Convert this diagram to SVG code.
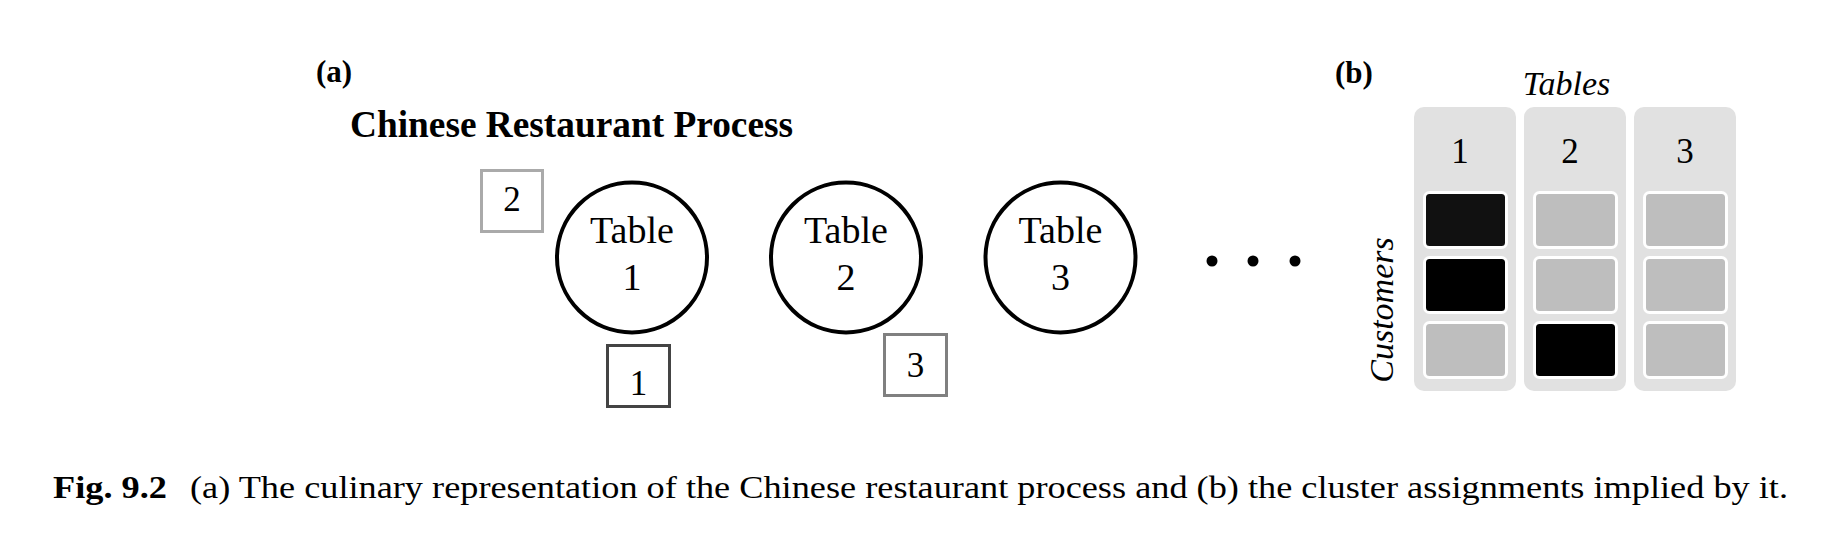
<svg xmlns="http://www.w3.org/2000/svg" width="1836" height="540" viewBox="0 0 1836 540" font-family="'Liberation Serif', 'Times New Roman', serif">
<style>
  text { font-family: "Liberation Serif", "Times New Roman", serif; fill: #000; }
  .lbl { font-size: 31px; font-weight: bold; }
  .title { font-size: 38px; font-weight: bold; }
  .tbl { font-size: 38px; text-anchor: middle; }
  .num { font-size: 35px; text-anchor: middle; }
  .ital { font-size: 34px; font-style: italic; text-anchor: middle; }
  .table { fill: #fff; stroke: #000; stroke-width: 4; }
  .cust { fill: #fff; stroke-width: 3; }
  .col { fill: #e1e1e1; }
  .cell { stroke: #fff; stroke-width: 3; }
  .on1 { fill: #111; }
  .on { fill: #000; }
  .off { fill: #bebebe; }
  .cap { font-size: 32px; }
</style>
<rect width="1836" height="540" fill="#fff"/>

<text class="lbl" x="316" y="82">(a)</text>
<text class="title" x="350" y="137" textLength="443" lengthAdjust="spacingAndGlyphs">Chinese Restaurant Process</text>

<g id="table1">
  <circle class="table" cx="632" cy="257.5" r="75"/>
  <text class="tbl" x="632" y="243">Table</text>
  <text class="tbl" x="632" y="290">1</text>
</g>
<g id="table2">
  <circle class="table" cx="846" cy="257.5" r="75"/>
  <text class="tbl" x="846" y="243">Table</text>
  <text class="tbl" x="846" y="290">2</text>
</g>
<g id="table3">
  <circle class="table" cx="1060.5" cy="257.5" r="75"/>
  <text class="tbl" x="1060.5" y="243">Table</text>
  <text class="tbl" x="1060.5" y="290">3</text>
</g>
<g id="ellipsis">
  <circle cx="1212" cy="261" r="5.5" fill="#000"/>
  <circle cx="1253" cy="261" r="5.5" fill="#000"/>
  <circle cx="1295" cy="261" r="5.5" fill="#000"/>
</g>

<g id="customer2">
  <rect class="cust" x="481.5" y="170.5" width="61" height="61" stroke="#aaaaaa"/>
  <text class="num" x="512" y="211">2</text>
</g>
<g id="customer1">
  <rect class="cust" x="607.5" y="345.5" width="62" height="61" stroke="#444444"/>
  <text class="num" x="638.5" y="395">1</text>
</g>
<g id="customer3">
  <rect class="cust" x="884.5" y="334.5" width="62" height="61" stroke="#808080"/>
  <text class="num" x="915.5" y="377">3</text>
</g>

<g id="connectors"></g>

<text class="lbl" x="1335" y="83">(b)</text>
<text class="ital" x="1566.5" y="95">Tables</text>
<text class="ital" transform="translate(1393,310) rotate(-90)" x="0" y="0">Customers</text>

<g id="column1">
  <rect class="col" x="1414" y="107" width="102" height="284" rx="10"/>
  <text class="num" x="1460" y="163">1</text>
  <rect class="cell on1" x="1424.5" y="192.5" width="82" height="55" rx="5"/>
  <rect class="cell on" x="1424.5" y="257.5" width="82" height="55" rx="5"/>
  <rect class="cell off" x="1424.5" y="322.5" width="82" height="55" rx="5"/>
</g>
<g id="column2">
  <rect class="col" x="1524" y="107" width="102" height="284" rx="10"/>
  <text class="num" x="1570" y="163">2</text>
  <rect class="cell off" x="1534.5" y="192.5" width="82" height="55" rx="5"/>
  <rect class="cell off" x="1534.5" y="257.5" width="82" height="55" rx="5"/>
  <rect class="cell on" x="1534.5" y="322.5" width="82" height="55" rx="5"/>
</g>
<g id="column3">
  <rect class="col" x="1634" y="107" width="102" height="284" rx="10"/>
  <text class="num" x="1685" y="163">3</text>
  <rect class="cell off" x="1644.5" y="192.5" width="82" height="55" rx="5"/>
  <rect class="cell off" x="1644.5" y="257.5" width="82" height="55" rx="5"/>
  <rect class="cell off" x="1644.5" y="322.5" width="82" height="55" rx="5"/>
</g>

<g id="caption">
  <text class="cap" x="53" y="498" font-weight="bold" textLength="114" lengthAdjust="spacingAndGlyphs">Fig. 9.2</text>
  <text class="cap" x="190" y="498" textLength="1598" lengthAdjust="spacingAndGlyphs">(a) The culinary representation of the Chinese restaurant process and (b) the cluster assignments implied by it.</text>
</g>
</svg>
